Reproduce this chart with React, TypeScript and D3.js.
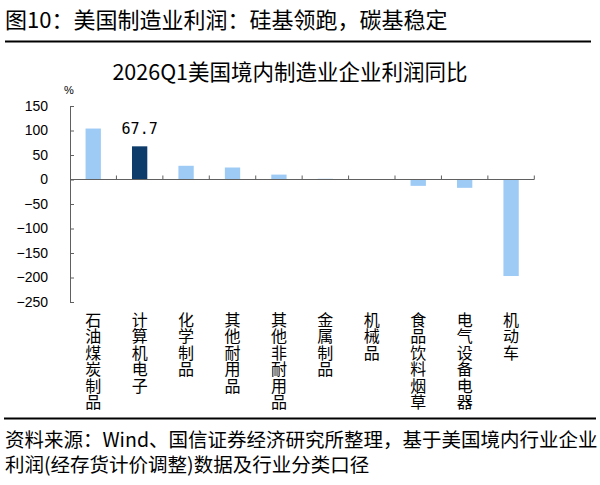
import React, { useEffect, useRef } from 'react';
import * as d3 from 'd3';

const categories = ['石油煤炭制品', '计算机电子', '化学制品', '其他耐用品', '其他非耐用品', '金属制品', '机械品', '食品饮料烟草', '电气设备电器', '机动车'];
const values = [104, 67.7, 28, 24.5, 10, 1.5, 0.3, -13, -17, -197];
const highlight = '计算机电子';
const yTicks = [150, 100, 50, 0, -50, -100, -150, -200, -250];

const mainTitle = '图10：美国制造业利润：硅基领跑，碳基稳定';
const chartTitle = '2026Q1美国境内制造业企业利润同比';
const sourceLines = ['资料来源：Wind、国信证券经济研究所整理，基于美国境内行业企业', '利润(经存货计价调整)数据及行业分类口径'];

const CJK = '"Noto Sans CJK SC", "Noto Sans", sans-serif';

const App: React.FC = () => {
  const svgRef = useRef<SVGSVGElement>(null);
  const width = 600;
  const height = 485;

  useEffect(() => {
    if (!svgRef.current) return;
    const svg = d3.select(svgRef.current);
    svg.selectAll('*').remove();

    const x = d3.scaleBand()
      .domain(categories)
      .range([70, 534.3])
      .paddingInner(0.67)
      .paddingOuter(0.335);

    const y = d3.scaleLinear()
      .domain([-250, 150])
      .range([302, 106]);

    const axisColor = '#606060';

    // header
    svg.append('text')
      .attr('x', 5)
      .attr('y', 28)
      .attr('font-family', CJK)
      .attr('font-size', 22)
      .attr('fill', '#000')
      .text(mainTitle);

    svg.append('line')
      .attr('x1', 5).attr('x2', 591)
      .attr('y1', 41.5).attr('y2', 41.5)
      .attr('stroke', '#000')
      .attr('stroke-width', 2);

    svg.append('text')
      .attr('x', 290)
      .attr('y', 80)
      .attr('text-anchor', 'middle')
      .attr('font-family', CJK)
      .attr('font-size', 21.5)
      .attr('fill', '#000')
      .text(chartTitle);

    svg.append('text')
      .attr('x', 69)
      .attr('y', 94)
      .attr('text-anchor', 'middle')
      .attr('font-family', 'Liberation Sans, Arial, sans-serif')
      .attr('font-size', 11)
      .text('%');

    // bars
    svg.append('g')
      .selectAll('rect')
      .data(values)
      .enter()
      .append('rect')
      .attr('x', (d, i) => x(categories[i]) as number)
      .attr('y', d => y(Math.max(d, 0)))
      .attr('width', x.bandwidth())
      .attr('height', d => Math.abs(y(d) - y(0)))
      .attr('fill', (d, i) => categories[i] === highlight ? '#0d3c6b' : '#9ecbf6');

    // value label on highlighted bar
    const hi = categories.indexOf(highlight);
    svg.append('text')
      .attr('x', (x(highlight) as number) + x.bandwidth() / 2)
      .attr('y', y(values[hi]) - 12)
      .attr('text-anchor', 'middle')
      .attr('font-family', '"DejaVu Sans Mono", monospace')
      .attr('font-size', 15)
      .attr('fill', '#000')
      .text(values[hi].toFixed(1));

    // y axis
    const yAxis = svg.append('g')
      .attr('transform', 'translate(70,0)')
      .call(d3.axisLeft(y).tickValues(yTicks).tickSizeInner(-4).tickSizeOuter(0).tickPadding(22));
    yAxis.select('.domain').attr('stroke', axisColor);
    yAxis.selectAll('.tick line').attr('stroke', axisColor);
    yAxis.selectAll('.tick text')
      .attr('font-family', 'Liberation Sans, Arial, sans-serif')
      .attr('font-size', 14)
      .attr('fill', '#000');

    // x axis at zero with upward ticks at band boundaries
    const xAxis = svg.append('g');
    xAxis.append('line')
      .attr('x1', 70).attr('x2', x.range()[1])
      .attr('y1', y(0)).attr('y2', y(0))
      .attr('stroke', axisColor);
    xAxis.selectAll('line.tk')
      .data(categories)
      .enter()
      .append('line')
      .attr('class', 'tk')
      .attr('x1', d => (x(d) as number) + x.bandwidth() / 2 + x.step() / 2)
      .attr('x2', d => (x(d) as number) + x.bandwidth() / 2 + x.step() / 2)
      .attr('y1', y(0)).attr('y2', y(0) - 4)
      .attr('stroke', axisColor);

    // vertical category labels, one character per row
    const labels = svg.append('g')
      .attr('font-family', CJK)
      .attr('font-size', 16)
      .attr('fill', '#000');
    categories.forEach(c => {
      const cx = (x(c) as number) + x.bandwidth() / 2;
      const t = labels.append('text')
        .attr('text-anchor', 'middle');
      Array.from(c).forEach((ch, j) => {
        t.append('tspan')
          .attr('x', cx)
          .attr('y', 326 + j * 16.4)
          .text(ch);
      });
    });

    // footer
    svg.append('line')
      .attr('x1', 4).attr('x2', 596)
      .attr('y1', 418.5).attr('y2', 418.5)
      .attr('stroke', '#000')
      .attr('stroke-width', 2);

    sourceLines.forEach((line, i) => {
      svg.append('text')
        .attr('x', 5)
        .attr('y', 447 + i * 25)
        .attr('font-family', CJK)
        .attr('font-size', 19.5)
        .attr('fill', '#000')
        .text(line);
    });
  }, []);

  return (
    <svg
      ref={svgRef}
      width={width}
      height={height}
      style={{ position: 'absolute', left: 0, top: 0, background: '#fff' }}
    />
  );
};

export default App;
